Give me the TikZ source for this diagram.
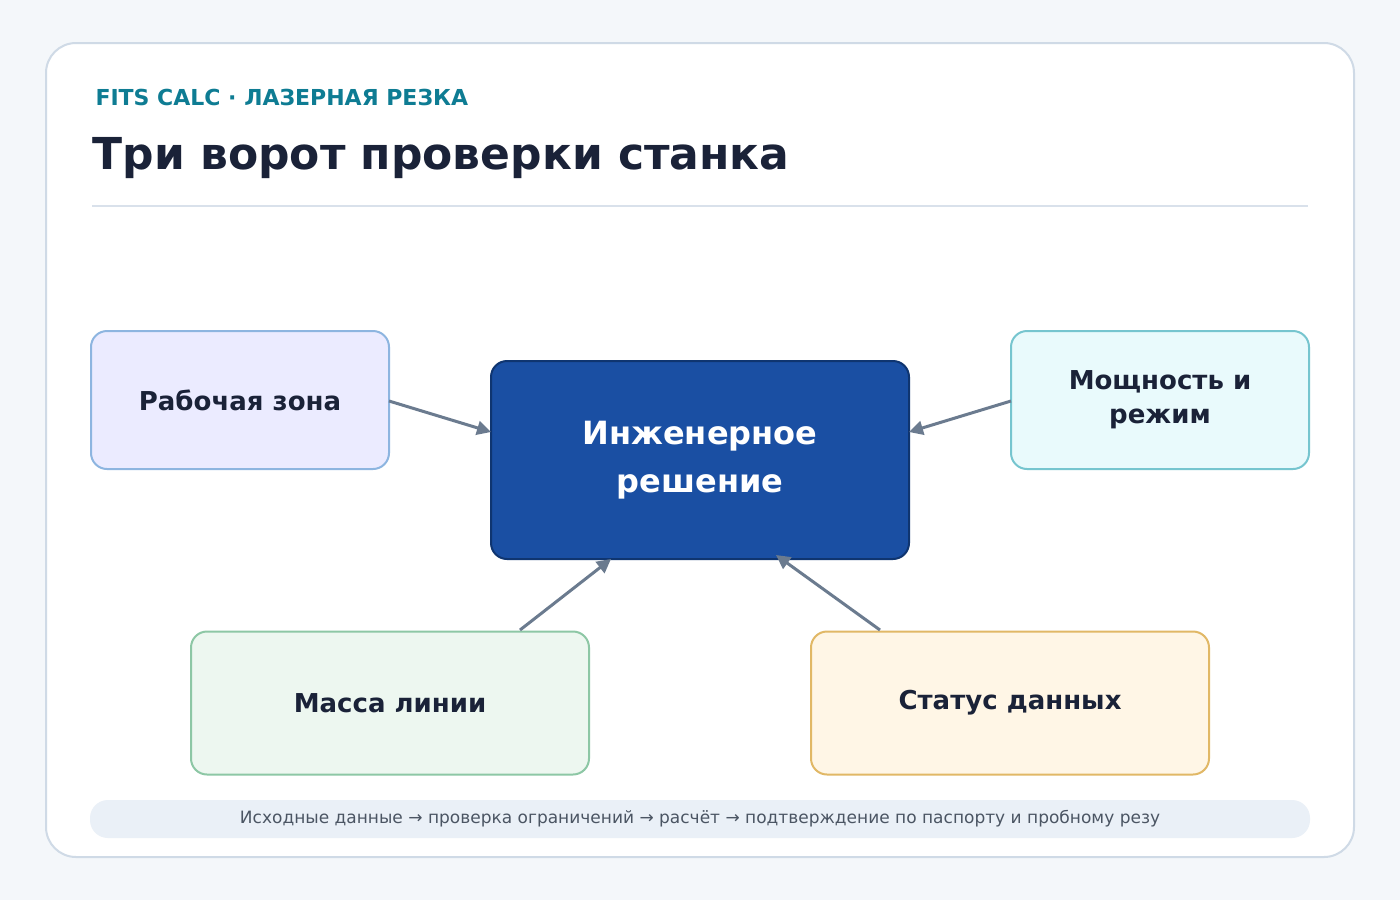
\documentclass[tikz,border=0pt]{standalone}
\usepackage{fontspec}
\setmainfont{DejaVu Sans}
\usetikzlibrary{arrows.meta}
\definecolor{bg}{HTML}{F4F7FA}
\definecolor{cardb}{HTML}{CFDAE6}
\definecolor{teal}{HTML}{0E7C93}
\definecolor{ink}{HTML}{1A2238}
\definecolor{conn}{HTML}{6B7B8F}
\begin{document}
\begin{tikzpicture}[x=1pt,y=-1pt,
 box/.style={draw,line width=2pt,rounded corners=16pt,inner sep=0pt,font=\bfseries\fontsize{26}{34}\selectfont,text=ink,align=center},
 conn/.style={draw=conn,line width=3pt,-{Triangle[length=14pt,width=14pt]}}]
\fill[bg] (0,0) rectangle (1400,900);
\useasboundingbox (0,0) rectangle (1400,900);
\draw[fill=white,draw=cardb,line width=2pt,rounded corners=30pt] (46,43) rectangle (1354,857);
\node[anchor=west,text=teal,font=\bfseries\fontsize{22}{26}\selectfont] (hdr) at (92,97) {FITS CALC · ЛАЗЕРНАЯ РЕЗКА};
\node[anchor=west,text=ink,font=\bfseries\fontsize{44}{50}\selectfont] (ttl) at (89,158) {Три ворот проверки станка};
\draw[draw=cardb!80,line width=2pt] (92,206) -- (1308,206);
\node[box,fill=blue!8,draw={rgb,255:red,141;green,181;blue,224},minimum width=298pt,minimum height=138pt] (a) at (240,400) {Рабочая зона};
\node[box,fill={rgb,255:red,26;green,79;blue,163},draw={rgb,255:red,15;green,53;blue,112},text=white,font=\bfseries\fontsize{32}{48}\selectfont,minimum width=418pt,minimum height=198pt] (c) at (700,460) {Инженерное\\решение};
\node[box,fill={rgb,255:red,233;green,250;blue,252},draw={rgb,255:red,118;green,197;blue,207},minimum width=298pt,minimum height=138pt] (b) at (1160,400) {Мощность и\\режим};
\node[box,fill={rgb,255:red,237;green,247;blue,240},draw={rgb,255:red,141;green,199;blue,165},minimum width=398pt,minimum height=143pt] (m) at (390,703) {Масса линии};
\node[box,fill={rgb,255:red,255;green,246;blue,230},draw={rgb,255:red,225;green,184;blue,102},minimum width=398pt,minimum height=143pt] (s) at (1010,703) {Статус данных};
\coordinate (a1) at (389,401); \coordinate (c1) at (491,432);
\coordinate (b1) at (1011,401); \coordinate (c2) at (909,432);
\coordinate (m1) at (520,630); \coordinate (c3) at (611,559);
\coordinate (s1) at (880,630); \coordinate (c4) at (776,555);
\draw[conn] (a1) -- (c1);
\draw[conn] (b1) -- (c2);
\draw[conn] (m1) -- (c3);
\draw[conn] (s1) -- (c4);
\node[fill={rgb,255:red,234;green,240;blue,247},rounded corners=18pt,minimum width=1220pt,minimum height=38pt,text={rgb,255:red,75;green,85;blue,99},font=\fontsize{17}{20}\selectfont] (f) at (700,819) {Исходные данные → проверка ограничений → расчёт → подтверждение по паспорту и пробному резу};
\end{tikzpicture}
\end{document}
